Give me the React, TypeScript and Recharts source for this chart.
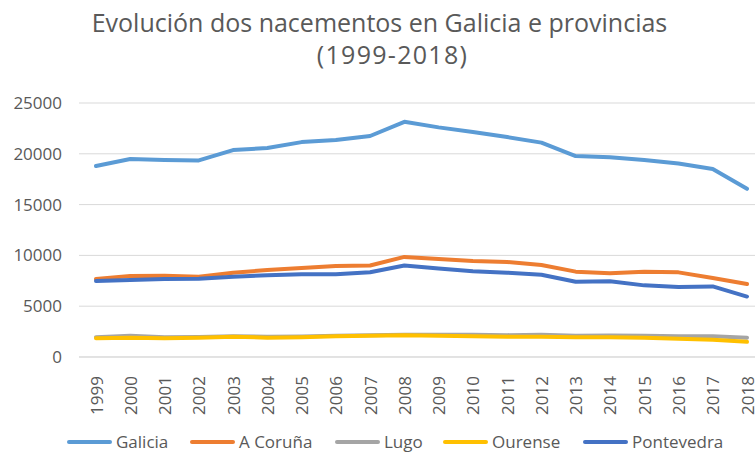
import React from "react";
import { LineChart, Line, XAxis, YAxis, CartesianGrid } from "recharts";

const years = ["1999","2000","2001","2002","2003","2004","2005","2006","2007","2008","2009","2010","2011","2012","2013","2014","2015","2016","2017","2018"];
const galicia = [18800,19480,19400,19350,20370,20570,21150,21350,21750,23150,22600,22150,21650,21100,19780,19650,19400,19050,18500,16550];
const aCoruna = [7680,7970,8000,7900,8300,8560,8760,8950,9000,9850,9640,9440,9350,9050,8400,8250,8380,8330,7780,7180];
const lugo = [1950,2100,1950,1980,2050,2000,2020,2080,2150,2200,2200,2180,2150,2200,2100,2120,2100,2050,2050,1900];
const ourense = [1850,1900,1850,1900,2000,1900,1950,2050,2100,2150,2100,2050,2000,2000,1950,1950,1900,1800,1700,1500];
const pontevedra = [7480,7580,7680,7700,7900,8050,8150,8150,8350,9000,8700,8450,8300,8100,7400,7450,7050,6900,6950,5950];
const yTicks = [0,5000,10000,15000,20000,25000];

const seriesNames = ["Galicia","A Coruña","Lugo","Ourense","Pontevedra"];
const seriesKeys = ["galicia","aCoruna","lugo","ourense","pontevedra"];
const seriesColors = ["#5B9BD5","#ED7D31","#A5A5A5","#FFC000","#4472C4"];

const data = years.map((y, i) => ({
  year: y,
  galicia: galicia[i],
  aCoruna: aCoruna[i],
  lugo: lugo[i],
  ourense: ourense[i],
  pontevedra: pontevedra[i],
}));

const FONT = "'Open Sans', 'Noto Sans', sans-serif";
const GRAY = "#595959";

const XTick = (props: any) => {
  const { x, y, payload } = props;
  return (
    <g transform={`translate(${x},${y})`}>
      <text
        transform="rotate(-90)"
        x={-11}
        y={0}
        textAnchor="end"
        dominantBaseline="central"
        fill={GRAY}
        fontSize={17}
        fontFamily={FONT}
      >
        {payload.value}
      </text>
    </g>
  );
};

const legendLefts = [67, 190, 335, 443, 583];

export default function App() {
  return (
    <div style={{ position: "fixed", left: 0, top: 0, width: 755, height: 453, overflow: "hidden", background: "#fff", fontFamily: FONT }}>
      <div style={{ position: "absolute", left: 0, top: 6, width: 759, textAlign: "center", fontSize: 25, color: GRAY, whiteSpace: "nowrap", lineHeight: "32px" }}>
        Evolución dos nacementos en Galicia e provincias
      </div>
      <div style={{ position: "absolute", left: 0, top: 38, width: 785, textAlign: "center", fontSize: 25, letterSpacing: 1.3, color: GRAY, whiteSpace: "nowrap", lineHeight: "32px" }}>
        (1999-2018)
      </div>
      <div style={{ position: "absolute", left: 0, top: 0 }}>
        <LineChart width={780} height={453} data={data} margin={{ top: 103, right: 16, left: 0, bottom: 0 }}>
          <CartesianGrid vertical={false} stroke="#d9d9d9" strokeWidth={1} />
          <XAxis
            dataKey="year"
            height={96}
            interval={0}
            padding={{ left: 17, right: 17 }}
            tickLine={false}
            axisLine={{ stroke: "#d9d9d9" }}
            tick={<XTick />}
          />
          <YAxis
            width={79}
            domain={[0, 25000]}
            ticks={yTicks}
            interval={0}
            tickLine={false}
            axisLine={false}
            tickMargin={11}
            tick={{ fill: GRAY, fontSize: 17, fontFamily: FONT }}
          />
          {seriesKeys.map((k, i) => (
            <Line
              key={k}
              type="linear"
              dataKey={k}
              name={seriesNames[i]}
              stroke={seriesColors[i]}
              strokeWidth={4}
              strokeLinecap="round"
              strokeLinejoin="round"
              dot={false}
              activeDot={false}
              isAnimationActive={false}
            />
          ))}
        </LineChart>
      </div>
      {seriesNames.map((n, i) => (
        <div key={n} style={{ position: "absolute", left: legendLefts[i], top: 428, height: 28, display: "flex", alignItems: "center", whiteSpace: "nowrap" }}>
          <div style={{ width: 45, height: 4, background: seriesColors[i], borderRadius: 2 }} />
          <span style={{ marginLeft: 4, fontSize: 17, color: GRAY, lineHeight: "28px" }}>{n}</span>
        </div>
      ))}
    </div>
  );
}
